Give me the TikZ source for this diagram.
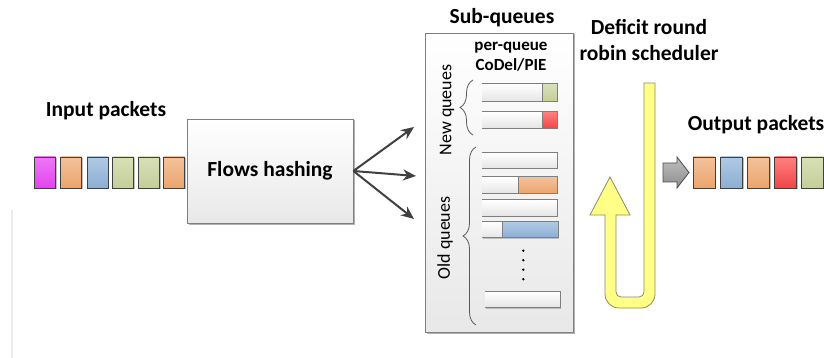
\documentclass[tikz,border=0pt]{standalone}
\usepackage{fontspec}
\setmainfont{Carlito}
\usetikzlibrary{shadows,decorations.pathreplacing,arrows.meta}
\definecolor{pktline}{HTML}{404040}
\definecolor{magT}{HTML}{EE78F6}\definecolor{magB}{HTML}{E244F0}
\definecolor{orT}{HTML}{F4C29C}\definecolor{orB}{HTML}{EBA46C}
\definecolor{blT}{HTML}{B0CAE4}\definecolor{blB}{HTML}{8CAED4}
\definecolor{grT}{HTML}{D8E0B8}\definecolor{grB}{HTML}{C4CE98}
\definecolor{rdT}{HTML}{FF8080}\definecolor{rdB}{HTML}{F04646}
\definecolor{boxline}{HTML}{7F7F7F}
\definecolor{yel}{HTML}{FFFF88}
\definecolor{yelline}{HTML}{8C8C5A}
\definecolor{arr}{HTML}{404040}
\tikzset{
  pkt/.style={draw=pktline, line width=0.8pt, minimum width=21pt, minimum height=31pt, inner sep=0pt,
    drop shadow={shadow xshift=1.2pt, shadow yshift=-1.2pt, opacity=0.25, fill=black}},
  opkt/.style={pkt, minimum width=22pt},
  mag/.style={top color=magT, bottom color=magB},
  ora/.style={top color=orT, bottom color=orB},
  blu/.style={top color=blT, bottom color=blB},
  gre/.style={top color=grT, bottom color=grB},
  red/.style={top color=rdT, bottom color=rdB},
  bigbox/.style={draw=boxline, line width=0.8pt, top color=white, bottom color=black!9, inner sep=0pt,
    drop shadow={shadow xshift=1.5pt, shadow yshift=-1.5pt, opacity=0.3, fill=black}},
  qbar/.style={top color=white, bottom color=black!10, minimum width=75pt, minimum height=16pt, inner sep=0pt,
    drop shadow={shadow xshift=1pt, shadow yshift=-1pt, opacity=0.2, fill=black}},
  qedge/.style={draw=boxline, line width=0.7pt},
  seg/.style={draw=boxline, line width=0.7pt},
  title/.style={font=\bfseries\fontsize{21.5}{26}\selectfont, align=center},
  small/.style={font=\bfseries\fontsize{17}{20}\selectfont, align=center},
  side/.style={font=\fontsize{18}{22}\selectfont, rotate=90},
  harrow/.style={draw=arr, line width=2pt, -{Stealth[length=13pt, width=11pt]}},
  brc/.style={draw=black!65, line width=0.8pt, decorate, decoration={brace, amplitude=13pt}}
}
\begin{document}
\begin{tikzpicture}[x=1pt,y=-1pt]
\useasboundingbox (0,0) rectangle (824,358);
% faint margin line
\draw[black!7, line width=1.2pt] (12,210) -- (12,358);
% input packets
\node[title] (inlbl) at (106,111) {Input packets};
\node[pkt, mag] (i1) at (45,172.5) {};
\node[pkt, ora] (i2) at (71,172.5) {};
\node[pkt, blu] (i3) at (97.5,172.5) {};
\node[pkt, gre] (i4) at (123,172.5) {};
\node[pkt, gre] (i5) at (149,172.5) {};
\node[pkt, ora] (i6) at (174,172.5) {};
% flows hashing
\node[bigbox, minimum width=166pt, minimum height=104pt, title] (fh) at (270,171) {Flows hashing};
\coordinate (a1) at (414,127);
\coordinate (a2) at (416,176);
\coordinate (a3) at (414,219);
\draw[harrow] (fh.east) -- (a1);
\draw[harrow] (fh.east) -- (a2);
\draw[harrow] (fh.east) -- (a3);
% sub-queues
\node[title] (sqlbl) at (502,18) {Sub-queues};
\node[bigbox, minimum width=148pt, minimum height=299pt] (sq) at (499,182.5) {};
\node[small] (pq) at (511,57) {per-queue\\CoDel/PIE};
\node[side] (nq) at (447,110) {New queues};
\node[side] (oq) at (445,238) {Old queues};
\coordinate (nb1) at (473,135);
\coordinate (nb2) at (473,80);
\coordinate (ob1) at (476,325);
\coordinate (ob2) at (476,147);
\draw[brc] (nb1) -- (nb2);
\draw[brc] (ob1) -- (ob2);
% queue bars (open on the left)
\node[qbar, minimum height=17pt] (q1) at (519.5,92.5) {};
\node[qbar] (q2) at (519.5,120) {};
\node[qbar] (q3) at (519.5,160.5) {};
\node[qbar] (q4) at (519.5,185) {};
\node[qbar] (q5) at (519.5,208) {};
\node[qbar, minimum width=76pt] (q6) at (520,229.5) {};
\node[qbar] (q7) at (522.5,299.5) {};
\foreach \q in {q1,q2,q3,q4,q5,q6,q7}
  \draw[qedge] (\q.north west) -- (\q.north east) -- (\q.south east) -- (\q.south west);
\draw[seg, gre] (q1.north east) ++(-14.5,0) rectangle (q1.south east);
\draw[seg, red] (q2.north east) ++(-15,0) rectangle (q2.south east);
\draw[seg, ora] (q4.north east) ++(-39,0) rectangle (q4.south east);
\draw[seg, blu] (q6.north east) ++(-56,0) rectangle (q6.south east);
\foreach \yy in {250.7,260.2,269.7,279.2} \fill[black] (523.3,\yy) circle (1.3);
% deficit round robin scheduler
\node[title] (drr) at (649,40) {Deficit round\\robin scheduler};
\draw[draw=yelline, fill=yel, line width=0.8pt]
  (644,83) -- (655,83) -- (655,294) arc[start angle=0, end angle=90, radius=14]
  -- (619,308) arc[start angle=90, end angle=180, radius=14]
  -- (605,215) -- (590,215) -- (610,177) -- (630,215) -- (616,215)
  -- (616,292) arc[start angle=180, end angle=90, radius=5]
  -- (639,297) arc[start angle=90, end angle=0, radius=5] -- cycle;
% output
\node[title] (outlbl) at (756,125) {Output packets};
\draw[draw=black!70, line width=0.8pt, top color=black!25, bottom color=black!45]
  (663,163) -- (677,163) -- (677,157) -- (689,172.5) -- (677,188) -- (677,182) -- (663,182) -- cycle;
\node[opkt, ora] (o1) at (704,172.5) {};
\node[opkt, blu] (o2) at (731.5,172.5) {};
\node[opkt, ora] (o3) at (758.5,172.5) {};
\node[opkt, red] (o4) at (785.5,172.5) {};
\node[opkt, gre] (o5) at (812.5,172.5) {};
\end{tikzpicture}
\end{document}
